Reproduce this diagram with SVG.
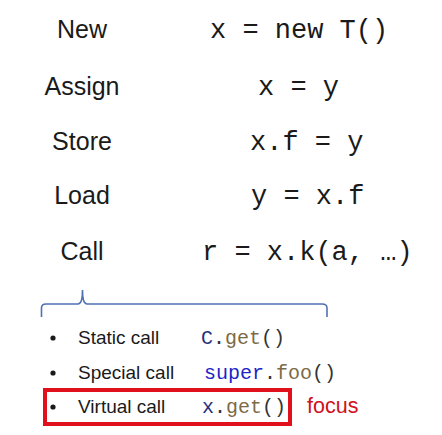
<svg xmlns="http://www.w3.org/2000/svg" width="442" height="435" viewBox="0 0 442 435">
<style>
.lbl{font-family:"Liberation Sans",Arial,sans-serif;font-size:25px;fill:#1a1a1a;text-anchor:middle}
.code{font-family:"Liberation Mono","DejaVu Sans Mono",monospace;font-size:27px;fill:#1a1a1a}
.item{font-family:"Liberation Sans",Arial,sans-serif;font-size:19px;fill:#1a1a1a}
.sc{font-family:"Liberation Mono","DejaVu Sans Mono",monospace;font-size:20px;fill:#333}
.nm{fill:#25307f}
.kw{fill:#2323c8}
.mt{fill:#7d6a45}
.bul{fill:#1a1a1a}
.focus{font-family:"Liberation Sans",Arial,sans-serif;font-size:21.5px;fill:#d0101c}
</style>
<rect width="442" height="435" fill="#ffffff"/>
<g id="row-new">
<text class="lbl" x="82" y="38">New</text>
<text class="code" x="210" y="38">x = new T()</text>
</g>
<g id="row-assign">
<text class="lbl" x="82" y="95">Assign</text>
<text class="code" x="258" y="95">x = y</text>
</g>
<g id="row-store">
<text class="lbl" x="82" y="150">Store</text>
<text class="code" x="250" y="150">x.f = y</text>
</g>
<g id="row-load">
<text class="lbl" x="82" y="204">Load</text>
<text class="code" x="251" y="204">y = x.f</text>
</g>
<g id="row-call">
<text class="lbl" x="82" y="260">Call</text>
<text class="code" x="202" y="260">r = x.k(a, …)</text>
</g>
<g id="connectors">
<path d="M41.5,317 L41.5,308 Q41.5,304 46,304 L78,304 Q82.5,304 82.5,290 Q82.5,304 87,304 L322,304 Q327,304 327,308 L327,317" fill="none" stroke="#4f72b5" stroke-width="1.6"/>
</g>
<g id="static-call">
<circle class="bul" cx="53" cy="338" r="2.6"/>
<text class="item" x="78" y="344">Static call</text>
<text class="sc" x="201" y="344"><tspan class="nm">C</tspan>.<tspan class="mt">get</tspan>()</text>
</g>
<g id="special-call">
<circle class="bul" cx="53" cy="373" r="2.6"/>
<text class="item" x="78" y="379">Special call</text>
<text class="sc" x="204" y="379"><tspan class="kw">super</tspan>.<tspan class="mt">foo</tspan>()</text>
</g>
<g id="virtual-call">
<rect x="45" y="390" width="245" height="34" fill="none" stroke="#e0101c" stroke-width="4"/>
<circle class="bul" cx="53" cy="407" r="2.6"/>
<text class="item" x="78" y="413">Virtual call</text>
<text class="sc" x="202" y="413"><tspan class="nm">x</tspan>.<tspan class="mt">get</tspan>()</text>
<text class="focus" x="307" y="413">focus</text>
</g>
</svg>
